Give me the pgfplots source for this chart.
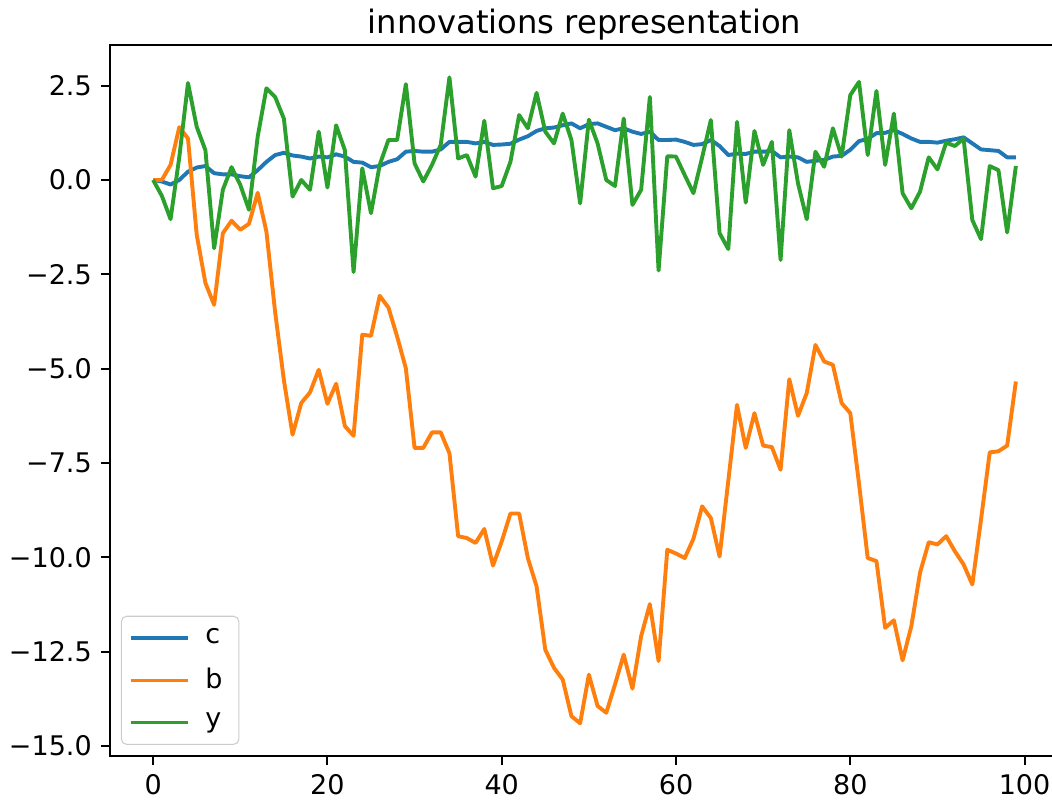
\documentclass[border=0pt]{standalone}
\usepackage{fontspec}
\setmainfont{DejaVu Sans}
\usepackage{pgfplots}
\pgfplotsset{compat=1.18}
\definecolor{mplblue}{HTML}{1F77B4}
\definecolor{mplorange}{HTML}{FF7F0E}
\definecolor{mplgreen}{HTML}{2CA02C}
\begin{document}
\begin{tikzpicture}
\begin{axis}[
  scale only axis, width=365.4pt, height=273.7pt,
  xmin=-4.95, xmax=103.95, ymin=-15.26, ymax=3.58,
  axis line style={line width=0.8pt},
  tick align=outside, major tick length=3.5pt,
  tick style={line width=0.8pt, black},
  xtick pos=bottom, ytick pos=left,
  xtick={0,20,40,60,80,100},
  xticklabels={0,20,40,60,80,100},
  ytick={-15,-12.5,-10,-7.5,-5,-2.5,0,2.5},
  yticklabels={−15.0,−12.5,−10.0,−7.5,−5.0,−2.5,0.0,2.5},
  tick label style={font=\fontsize{10.4}{12}\selectfont},
  title={innovations representation},
  title style={font=\fontsize{12.4}{14}\selectfont, anchor=base, yshift=-1.5pt},
  legend cell align=left,
  legend image code/.code={\draw[#1] (0pt,0pt) -- (22pt,0pt); \path (24.5pt,0pt);},
  legend style={at={(0,0)}, anchor=south west, xshift=4.2pt, yshift=4.2pt,
    draw=black!20, rounded corners=2pt, fill=white, fill opacity=0.8, text opacity=1,
    font=\fontsize{10.4}{12}\selectfont, row sep=3.9pt, inner ysep=2.8pt,
    nodes={inner xsep=3.3pt}},
  every axis plot/.append style={line width=1.5pt, line join=round},
]
% c
\addplot[mplblue] coordinates {
(0,0.00) (1,-0.04) (2,-0.12) (3,0.00) (4,0.22) (5,0.33) (6,0.37) (7,0.18) (8,0.15) (9,0.15)
(10,0.10) (11,0.07) (12,0.26) (13,0.48) (14,0.66) (15,0.72) (16,0.65) (17,0.62) (18,0.57) (19,0.62)
(20,0.60) (21,0.68) (22,0.62) (23,0.48) (24,0.46) (25,0.34) (26,0.37) (27,0.48) (28,0.55) (29,0.75)
(30,0.77) (31,0.75) (32,0.75) (33,0.81) (34,1.01) (35,1.01) (36,1.01) (37,0.97) (38,1.01) (39,0.93)
(40,0.94) (41,0.96) (42,1.07) (43,1.16) (44,1.30) (45,1.37) (46,1.39) (47,1.45) (48,1.50) (49,1.37)
(50,1.48) (51,1.50) (52,1.41) (53,1.32) (54,1.37) (55,1.28) (56,1.22) (57,1.28) (58,1.06) (59,1.06)
(60,1.07) (61,1.01) (62,0.93) (63,0.95) (64,1.06) (65,0.90) (66,0.66) (67,0.70) (68,0.69) (69,0.75)
(70,0.75) (71,0.77) (72,0.60) (73,0.62) (74,0.60) (75,0.48) (76,0.51) (77,0.53) (78,0.62) (79,0.64)
(80,0.80) (81,1.03) (82,1.09) (83,1.24) (84,1.25) (85,1.32) (86,1.22) (87,1.10) (88,1.01) (89,1.01)
(90,0.99) (91,1.04) (92,1.08) (93,1.13) (94,0.97) (95,0.81) (96,0.79) (97,0.77) (98,0.60) (99,0.60)
};
\addlegendentry{c}
% b
\addplot[mplorange] coordinates {
(0,0.00) (1,0.00) (2,0.40) (3,1.40) (4,1.10) (5,-1.45) (6,-2.73) (7,-3.31) (8,-1.41) (9,-1.08)
(10,-1.32) (11,-1.16) (12,-0.34) (13,-1.37) (14,-3.50) (15,-5.30) (16,-6.75) (17,-5.91) (18,-5.63) (19,-5.03)
(20,-5.93) (21,-5.40) (22,-6.52) (23,-6.78) (24,-4.10) (25,-4.13) (26,-3.07) (27,-3.38) (28,-4.15) (29,-4.99)
(30,-7.10) (31,-7.10) (32,-6.69) (33,-6.69) (34,-7.24) (35,-9.44) (36,-9.49) (37,-9.62) (38,-9.25) (39,-10.22)
(40,-9.58) (41,-8.84) (42,-8.84) (43,-10.02) (44,-10.77) (45,-12.45) (46,-12.93) (47,-13.24) (48,-14.21) (49,-14.40)
(50,-13.11) (51,-13.94) (52,-14.12) (53,-13.37) (54,-12.58) (55,-13.48) (56,-12.09) (57,-11.24) (58,-12.75) (59,-9.80)
(60,-9.90) (61,-10.02) (62,-9.51) (63,-8.65) (64,-8.96) (65,-9.98) (66,-7.97) (67,-5.96) (68,-7.10) (69,-6.18)
(70,-7.04) (71,-7.08) (72,-7.68) (73,-5.28) (74,-6.25) (75,-5.65) (76,-4.37) (77,-4.81) (78,-4.90) (79,-5.91)
(80,-6.18) (81,-8.05) (82,-10.02) (83,-10.10) (84,-11.87) (85,-11.67) (86,-12.73) (87,-11.83) (88,-10.41) (89,-9.60)
(90,-9.66) (91,-9.44) (92,-9.84) (93,-10.19) (94,-10.72) (95,-9.00) (96,-7.22) (97,-7.19) (98,-7.04) (99,-5.34)
};
\addlegendentry{b}
% y
\addplot[mplgreen] coordinates {
(0,0.00) (1,-0.42) (2,-1.04) (3,0.60) (4,2.57) (5,1.41) (6,0.79) (7,-1.81) (8,-0.26) (9,0.34)
(10,-0.13) (11,-0.79) (12,1.15) (13,2.43) (14,2.20) (15,1.63) (16,-0.44) (17,0.00) (18,-0.26) (19,1.28)
(20,-0.20) (21,1.45) (22,0.79) (23,-2.44) (24,0.31) (25,-0.88) (26,0.40) (27,1.06) (28,1.06) (29,2.54)
(30,0.44) (31,-0.04) (32,0.40) (33,0.93) (34,2.72) (35,0.57) (36,0.66) (37,0.09) (38,1.57) (39,-0.22)
(40,-0.16) (41,0.48) (42,1.72) (43,1.37) (44,2.31) (45,1.28) (46,0.97) (47,1.76) (48,1.06) (49,-0.62)
(50,1.60) (51,0.97) (52,0.00) (53,-0.16) (54,1.63) (55,-0.66) (56,-0.26) (57,2.20) (58,-2.40) (59,0.63)
(60,0.62) (61,0.13) (62,-0.35) (63,0.60) (64,1.59) (65,-1.41) (66,-1.83) (67,1.54) (68,-0.60) (69,1.30)
(70,0.40) (71,1.01) (72,-2.12) (73,1.32) (74,-0.09) (75,-1.04) (76,0.75) (77,0.35) (78,1.37) (79,0.62)
(80,2.25) (81,2.60) (82,0.66) (83,2.36) (84,0.40) (85,1.76) (86,-0.35) (87,-0.75) (88,-0.31) (89,0.60)
(90,0.28) (91,0.99) (92,0.90) (93,1.10) (94,-1.06) (95,-1.57) (96,0.37) (97,0.26) (98,-1.39) (99,0.37)
};
\addlegendentry{y}
\end{axis}
\pgfresetboundingbox
\path ([shift={(-42.35pt,-18.1pt)}]current axis.south west) rectangle ([shift={(-2.7pt,17.3pt)}]current axis.north east);
\end{tikzpicture}
\end{document}
